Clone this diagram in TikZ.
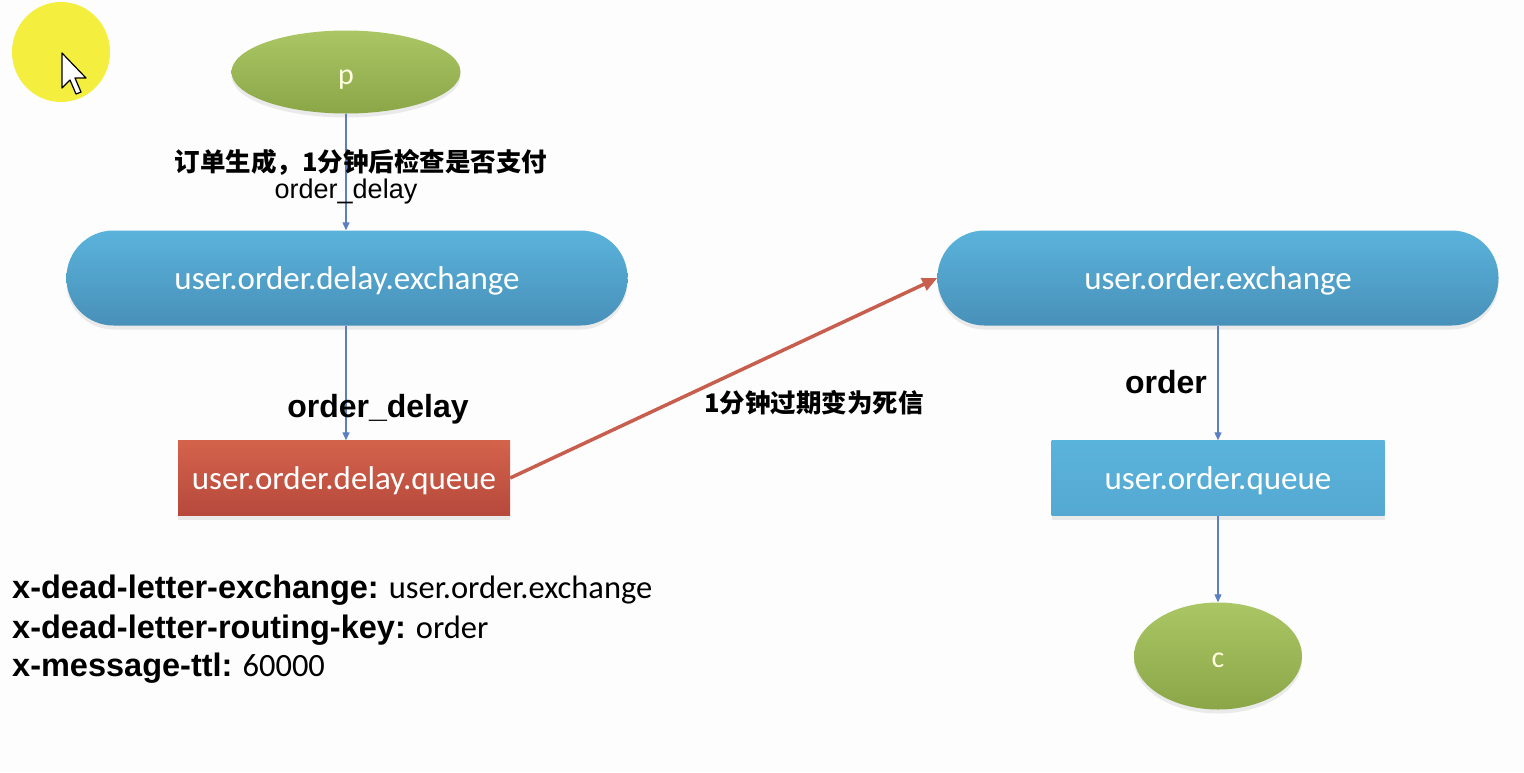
\documentclass[tikz,border=0pt]{standalone}
\usepackage{fontspec}
\setmainfont{Liberation Sans}
\newfontfamily\calfont{Carlito}
\newfontfamily\cjkfont{Noto Sans CJK SC}
\usetikzlibrary{shapes.geometric,shadows,arrows.meta}
\definecolor{bgcol}{HTML}{FDFDFD}
\definecolor{greentop}{HTML}{ABC664}
\definecolor{greenbot}{HTML}{8BA647}
\definecolor{bluetop}{HTML}{5AB3DB}
\definecolor{bluebot}{HTML}{4890B9}
\definecolor{redtop}{HTML}{D4634C}
\definecolor{redbot}{HTML}{B6493C}
\definecolor{linecol}{HTML}{5A80C2}
\definecolor{redline}{HTML}{C85E4D}
\definecolor{paletext}{HTML}{FFFFE0}
\definecolor{hilite}{HTML}{F4EE3E}
\newcommand\pvfont{\mdseries\calfont\fontsize{32.5}{36}\selectfont}
\tikzset{
  shade/.style={drop shadow={opacity=0.15,shadow xshift=0pt,shadow yshift=-4pt}},
  greenell/.style={ellipse,inner sep=0pt,top color=greentop,bottom color=greenbot,shade,
    text=paletext,font=\calfont\fontsize{30}{34}\selectfont},
  exch/.style={rectangle,rounded corners=47pt,minimum width=561pt,minimum height=95pt,
    top color=bluetop,bottom color=bluebot,shade,text=white,font=\calfont\fontsize{33}{38}\selectfont},
  bluequeue/.style={rectangle,minimum width=333pt,minimum height=75pt,
    top color=bluetop,bottom color=bluetop!70!bluebot,shade,text=white,font=\calfont\fontsize{33}{38}\selectfont},
  redqueue/.style={rectangle,minimum width=332pt,minimum height=75pt,
    top color=redtop,bottom color=redbot,shade,text=white,font=\calfont\fontsize{33}{38}\selectfont},
  boxtext/.style={text height=28pt,text depth=5pt},
  conn/.style={draw=linecol,line width=1.2pt,-{Triangle[length=8pt,width=7pt]}},
  deadconn/.style={draw=redline,line width=3.5pt,-{Triangle[length=15pt,width=13pt]}},
  cjklabel/.style={font=\cjkfont\bfseries\fontsize{25.5}{30}\selectfont,inner sep=0pt},
  keylabel/.style={font=\bfseries\fontsize{32}{36}\selectfont,inner sep=0pt},
  plainlabel/.style={font=\fontsize{27}{30}\selectfont,inner sep=0pt},
  proplabel/.style={anchor=base west,inner sep=0pt,font=\bfseries\fontsize{32.5}{36}\selectfont}
}
\begin{document}
\begin{tikzpicture}[x=1pt,y=-1pt]
\useasboundingbox (0,0) rectangle (1524,772);
\fill[bgcol] (0,0) rectangle (1524,772);

% screen-recording cursor highlight
\fill[hilite] (61,52) ellipse [x radius=49,y radius=50];
\filldraw[fill=white,draw=black,line width=1.2pt,line join=round]
  (62,53) -- (62,88) -- (70,80) -- (76,94) -- (81,92) -- (75,78) -- (86,78) -- cycle;

% nodes
\node[greenell,minimum width=229pt,minimum height=83pt,text height=30pt,text depth=6pt] (p) at (346,72) {p};
\node[exch,boxtext] (dex) at (347,278) {user.order.delay.exchange};
\node[redqueue,boxtext] (dq) at (344,478) {user.order.delay.queue};
\node[exch,boxtext] (ex) at (1218,278) {user.order.exchange};
\node[bluequeue,boxtext] (q) at (1218,478) {user.order.queue};
\node[greenell,minimum width=168pt,minimum height=107pt,text height=22pt,text depth=0pt] (c) at (1218,656) {c};

% connectors
\draw[conn] (p.south) -- (dex.north -| p.south);
\draw[conn] (dex.south -| p.south) -- (dq.north -| p.south);
\draw[conn] (ex.south) -- (q.north);
\draw[conn] (q.south) -- (c.north);
\draw[deadconn] (dq.east) -- (ex.west);

% labels
\node[cjklabel] (l1) at (361,162) {订单生成，1分钟后检查是否支付};
\node[plainlabel] (l2) at (346,192) {order\_delay};
\node[keylabel] (l3) at (378,409) {order\_delay};
\node[cjklabel] (l4) at (814,403) {1分钟过期变为死信};
\node[keylabel] (l5) at (1166,382) {order};

% properties
\node[proplabel] (a1) at (12,598) {x-dead-letter-exchange:\hspace{-2pt} {\pvfont user.order.exchange}};
\node[proplabel] (a2) at (12,638) {x-dead-letter-routing-key:\hspace{-2pt} {\pvfont order}};
\node[proplabel] (a3) at (12,676) {x-message-ttl:\hspace{-2pt} {\pvfont 60000}};
\end{tikzpicture}
\end{document}
